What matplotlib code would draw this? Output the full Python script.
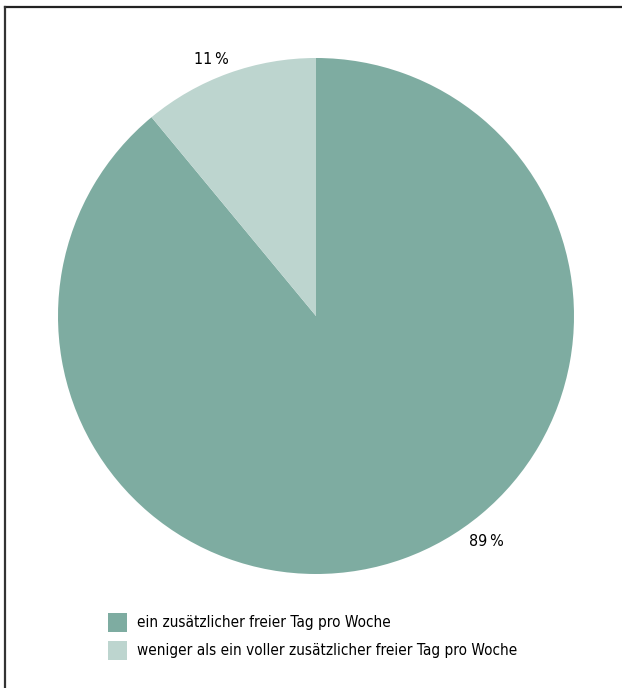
import matplotlib.pyplot as plt
from matplotlib.patches import Rectangle
from matplotlib.lines import Line2D

plt.rcParams['font.family'] = ['DejaVu Sans']
plt.rcParams['font.stretch'] = 'condensed'

labels = ["ein zusätzlicher freier Tag pro Woche",
          "weniger als ein voller zusätzlicher freier Tag pro Woche"]
shares = [89, 11]
colors = ["#7eaca1", "#bdd5cf"]

W, H = 622, 688
fig = plt.figure(figsize=(W / 100, H / 100), dpi=100)

# pie: centre (316, 316) px, radius 258 px
cx, cy, r = 316, 316, 258
ax = fig.add_axes([(cx - r) / W, (H - cy - r) / H, 2 * r / W, 2 * r / H])
ax.pie(shares, colors=colors, startangle=90, counterclock=False, radius=1,
       wedgeprops=dict(linewidth=0))
ax.set_xlim(-1, 1)
ax.set_ylim(-1, 1)
ax.set_aspect('equal')
ax.axis('off')

# percentage labels outside the wedges
ax.text(0.66, -0.875, f"{shares[0]}\u2009%", ha='center', va='center', fontsize=11.5)
ax.text(-0.405, 0.995, f"{shares[1]}\u2009%", ha='center', va='center', fontsize=11.5)

# legend
for i, (lab, col) in enumerate(zip(labels, colors)):
    ytop = 613 + i * 28
    fig.add_artist(Rectangle((108 / W, 1 - (ytop + 19) / H), 19 / W, 19 / H,
                             transform=fig.transFigure, color=col, lw=0))
    fig.text(137 / W, 1 - (ytop + 10) / H, lab, ha='left', va='center',
             fontsize=11)

# frame lines on top and left
fig.add_artist(Line2D([5 / W, 1], [1 - 7 / H, 1 - 7 / H], transform=fig.transFigure,
                      color='#222222', lw=1.6))
fig.add_artist(Line2D([5 / W, 5 / W], [0, 1 - 7 / H], transform=fig.transFigure,
                      color='#333333', lw=1.6))

fig.savefig('out.png', dpi=100, facecolor='white')
